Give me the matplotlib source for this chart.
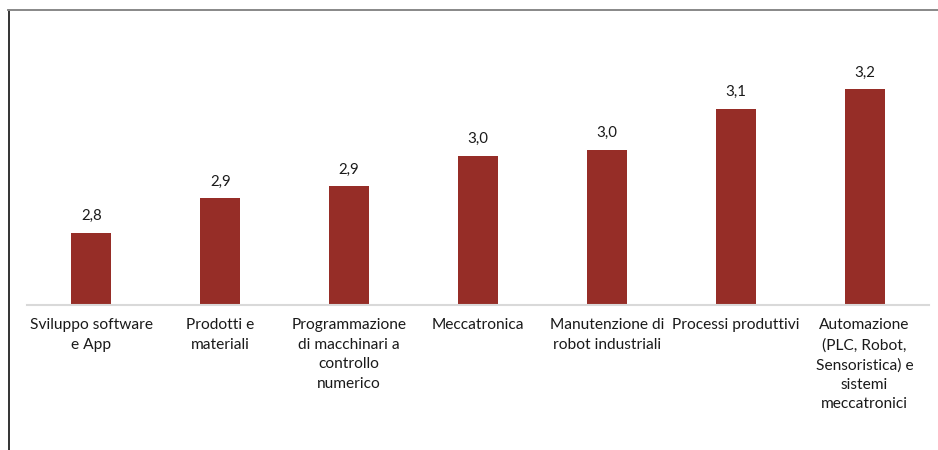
import matplotlib.pyplot as plt
from matplotlib.lines import Line2D

plt.rcParams['font.family'] = ['Lato', 'DejaVu Sans']

categorie = ["Sviluppo software\ne App", "Prodotti e\nmateriali",
             "Programmazione\ndi macchinari a\ncontrollo\nnumerico",
             "Meccatronica", "Manutenzione di\nrobot industriali",
             "Processi produttivi",
             "Automazione\n(PLC, Robot,\nSensoristica) e\nsistemi\nmeccatronici"]
valori = [2.80, 2.896, 2.929, 3.014, 3.031, 3.146, 3.20]
etichette = ["2,8", "2,9", "2,9", "3,0", "3,0", "3,1", "3,2"]

rosso = "#962d27"

fig = plt.figure(figsize=(9.38, 4.5), dpi=100)
ax = fig.add_axes([27 / 938, 145.5 / 450, 902 / 938, 287 / 450])

x = range(len(categorie))
bars = ax.bar(x, valori, width=0.31, color=rosso, bottom=0)
ax.set_ylim(2.6, 3.4)
ax.set_xlim(-0.5, len(categorie) - 0.5)

for b, t in zip(bars, etichette):
    ax.annotate(t, (b.get_x() + b.get_width() / 2, b.get_height()),
                xytext=(0, 7), textcoords="offset points",
                ha="center", va="bottom", fontsize=10.8, color="#1a1a1a")

ax.set_xticks(list(x))
ax.set_xticklabels(categorie, fontsize=11.2, color="#1a1a1a", linespacing=1.5,
                   va="top")
ax.tick_params(axis="x", length=0, pad=10)
ax.set_yticks([])
for s in ["top", "right", "left"]:
    ax.spines[s].set_visible(False)
ax.spines["bottom"].set_color("#d9d9d9")
ax.spines["bottom"].set_linewidth(1.5)

# cornice del grafico
fig.add_artist(Line2D([8.5 / 938, 8.5 / 938], [0, 440 / 450],
                      transform=fig.transFigure, color="#111111", lw=1.2))
fig.add_artist(Line2D([8 / 938, 1], [440 / 450, 440 / 450],
                      transform=fig.transFigure, color="#888888", lw=1.4))

fig.savefig("out.png", dpi=100)
